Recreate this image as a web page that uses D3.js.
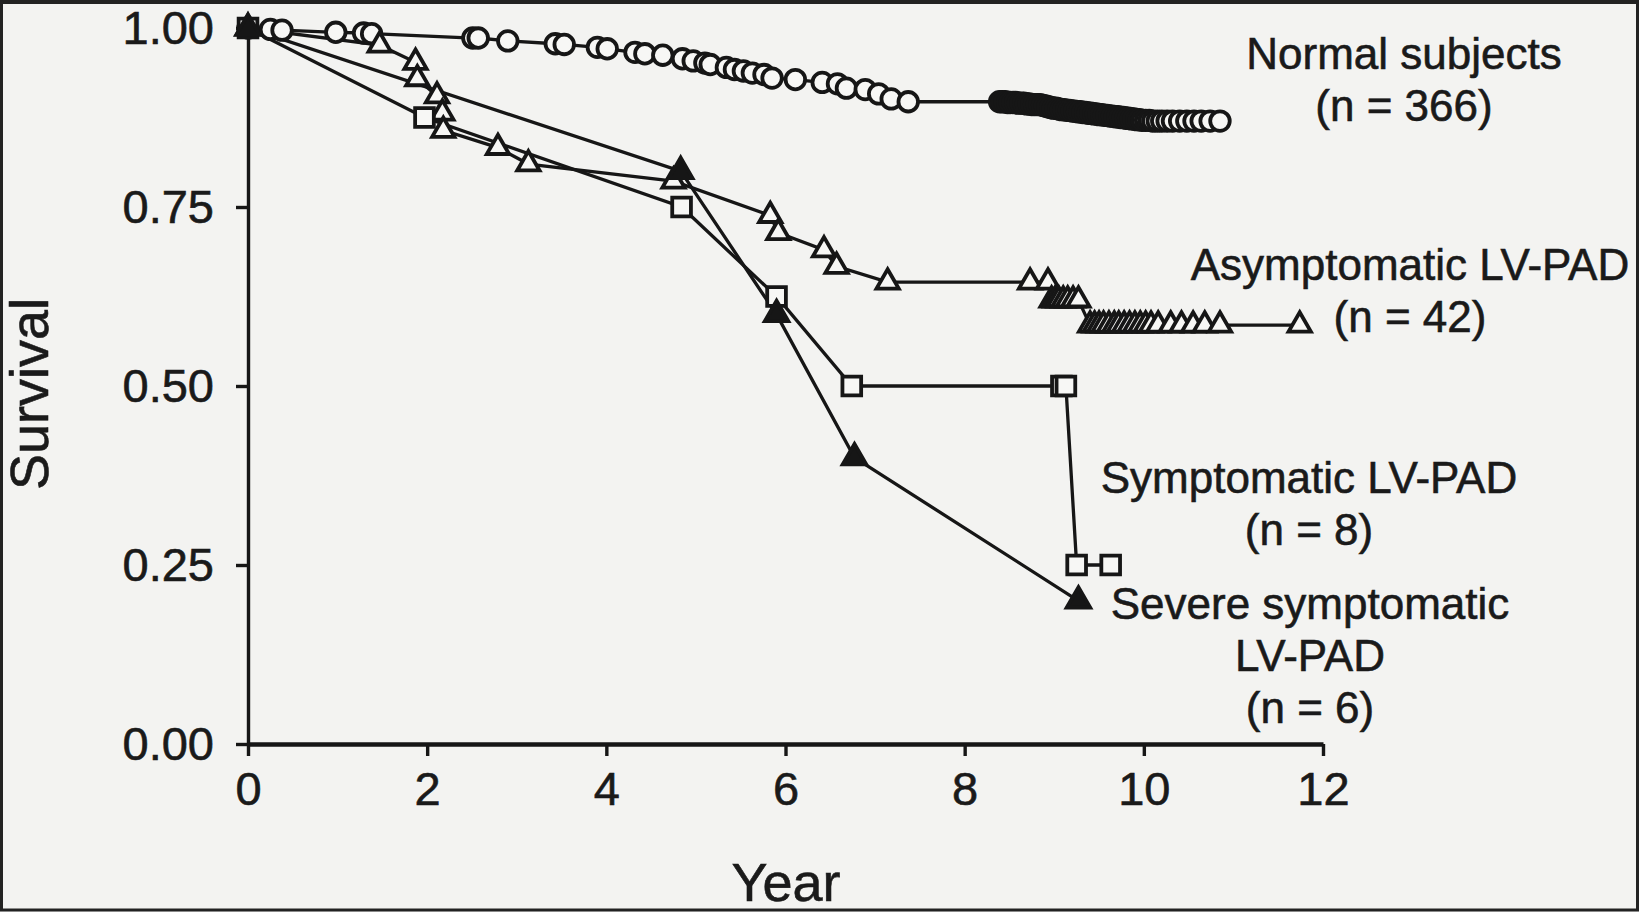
<!DOCTYPE html>
<html>
<head>
<meta charset="utf-8">
<script src="https://cdn.jsdelivr.net/npm/d3@7"></script>
<style>
body { margin: 0; background: #f3f3f1; }
svg { display: block; }
text { font-family: "Liberation Sans", Arial, Helvetica, sans-serif; fill: #1a1a1a; stroke: #1a1a1a; stroke-width: 0.6px; }
</style>
</head>
<body>
<svg width="1639" height="912"></svg>
<script>
// survival curves, [year, survival]
var normalPts = [[0, 1], [0.25, 0.998], [0.38, 0.997], [0.98, 0.994], [1.29, 0.993], [1.38, 0.992],
    [2.51, 0.986], [2.57, 0.986], [2.90, 0.982], [3.43, 0.978], [3.53, 0.977], [3.90, 0.973], [4.01, 0.971],
    [4.32, 0.966], [4.43, 0.964], [4.63, 0.962], [4.85, 0.957], [4.97, 0.954], [5.10, 0.951], [5.16, 0.949],
    [5.34, 0.945], [5.43, 0.942], [5.53, 0.940], [5.63, 0.937], [5.76, 0.935], [5.85, 0.930], [6.11, 0.928],
    [6.41, 0.924], [6.58, 0.922], [6.68, 0.916], [6.89, 0.914], [7.04, 0.908], [7.18, 0.901], [7.37, 0.897],
    [8.39, 0.897], [8.42, 0.897], [8.45, 0.897], [8.48, 0.896], [8.51, 0.896], [8.54, 0.896], [8.57, 0.896],
    [8.60, 0.895], [8.63, 0.895], [8.66, 0.895], [8.69, 0.894], [8.72, 0.894], [8.75, 0.893], [8.78, 0.893],
    [8.81, 0.893], [8.84, 0.893], [8.87, 0.892], [8.90, 0.891], [8.93, 0.890], [8.96, 0.889], [8.99, 0.888],
    [9.02, 0.888], [9.05, 0.887], [9.08, 0.886], [9.11, 0.886], [9.14, 0.885], [9.17, 0.885], [9.20, 0.884],
    [9.23, 0.884], [9.26, 0.883], [9.29, 0.883], [9.32, 0.882], [9.35, 0.882], [9.38, 0.881], [9.41, 0.881],
    [9.44, 0.880], [9.47, 0.880], [9.50, 0.879], [9.53, 0.879], [9.56, 0.878], [9.59, 0.878], [9.62, 0.877],
    [9.65, 0.877], [9.68, 0.876], [9.71, 0.876], [9.74, 0.875], [9.77, 0.875], [9.80, 0.874], [9.83, 0.874],
    [9.86, 0.873], [9.89, 0.873], [9.92, 0.872], [9.95, 0.872], [9.98, 0.871], [10.02, 0.871], [10.06, 0.871],
    [10.10, 0.870], [10.15, 0.870], [10.20, 0.870], [10.26, 0.870], [10.32, 0.870], [10.40, 0.870],
    [10.48, 0.870], [10.56, 0.870], [10.64, 0.870], [10.74, 0.870], [10.85, 0.870]];

var asymPts = [[0, 1], [1.47, 0.976], [1.87, 0.952], [1.89, 0.929], [2.11, 0.905], [2.17, 0.881], [2.18, 0.857],
    [2.79, 0.833], [3.13, 0.810], [4.75, 0.786], [5.83, 0.738], [5.92, 0.714], [6.43, 0.690], [6.57, 0.667],
    [7.14, 0.645], [8.73, 0.645], [8.93, 0.645], [8.97, 0.620], [9.01, 0.620], [9.05, 0.620], [9.10, 0.620],
    [9.15, 0.620], [9.21, 0.620], [9.27, 0.620], [9.40, 0.585], [9.45, 0.585], [9.50, 0.585], [9.55, 0.585],
    [9.61, 0.585], [9.67, 0.585], [9.72, 0.585], [9.78, 0.585], [9.84, 0.585], [9.90, 0.585], [9.96, 0.585],
    [10.02, 0.585], [10.08, 0.585], [10.16, 0.585], [10.30, 0.585], [10.42, 0.585], [10.55, 0.585],
    [10.68, 0.585], [10.85, 0.585], [11.74, 0.585]];

var symPts = [[0, 1], [1.97, 0.875], [4.84, 0.750], [5.90, 0.625], [6.74, 0.500], [9.08, 0.500],
    [9.13, 0.500], [9.25, 0.250], [9.63, 0.250]];

var severePts = [[0, 1], [4.83, 0.800], [5.90, 0.600], [6.77, 0.400], [9.27, 0.200]];

var xTicks = [0, 2, 4, 6, 8, 10, 12];
var yTicks = [0, 0.25, 0.5, 0.75, 1];

var normalLabel = ["Normal subjects", "(n = 366)"];
var asymLabel = ["Asymptomatic LV-PAD", "(n = 42)"];
var symLabel = ["Symptomatic LV-PAD", "(n = 8)"];
var severeLabel = ["Severe symptomatic", "LV-PAD", "(n = 6)"];

var svg = d3.select("svg");
var width = 1639, height = 912;
var ink = "#161616";
var paper = "#f7f7f5";

var x = d3.scaleLinear().domain([0, 12]).range([248, 1323]);
var y = d3.scaleLinear().domain([0, 1]).range([744, 28]);

// axes
var xAxis = svg.append("g")
    .attr("transform", "translate(0," + y(0) + ")")
    .call(d3.axisBottom(x).tickValues(xTicks).tickSize(12).tickSizeOuter(0).tickPadding(16));
var yAxis = svg.append("g")
    .attr("transform", "translate(" + x(0) + ",0)")
    .call(d3.axisLeft(y).tickValues(yTicks).tickFormat(d3.format(".2f")).tickSize(12).tickSizeOuter(0).tickPadding(22));

xAxis.select(".domain").attr("stroke", ink).attr("stroke-width", 4.5);
yAxis.select(".domain").attr("stroke", ink).attr("stroke-width", 3.4);
svg.selectAll(".tick line").attr("stroke", ink).attr("stroke-width", 3.4);
svg.selectAll(".tick text").style("font-size", "47px").attr("fill", ink);

// axis titles
svg.append("text")
    .attr("x", 786).attr("y", 901)
    .attr("text-anchor", "middle")
    .style("font-size", "54px")
    .text("Year");
svg.append("text")
    .attr("transform", "translate(48,394) rotate(-90)")
    .attr("text-anchor", "middle")
    .style("font-size", "54px")
    .text("Survival");

// curves
var series = [
    { pts: normalPts, shape: d3.symbolCircle, size: 300, fill: paper },
    { pts: asymPts, shape: d3.symbolTriangle, size: 215, fill: paper },
    { pts: symPts, shape: d3.symbolSquare, size: 350, fill: paper },
    { pts: severePts, shape: d3.symbolTriangle, size: 240, fill: ink }
];

var line = d3.line()
    .x(function(d) { return x(d[0]); })
    .y(function(d) { return y(d[1]); });

var lines = svg.append("g");
series.forEach(function(s) {
    lines.append("path")
        .datum(s.pts)
        .attr("d", line)
        .attr("fill", "none")
        .attr("stroke", ink)
        .attr("stroke-width", 3.3);
});

var marks = svg.append("g");
series.forEach(function(s) {
    marks.selectAll(null)
        .data(s.pts)
        .enter().append("path")
        .attr("transform", function(d) { return "translate(" + x(d[0]) + "," + y(d[1]) + ")"; })
        .attr("d", d3.symbol().type(s.shape).size(s.size))
        .attr("fill", s.fill)
        .attr("stroke", ink)
        .attr("stroke-width", 3.8);
});

// curve labels
function label(lines, cx, y0) {
    var t = svg.append("text")
        .attr("text-anchor", "middle")
        .style("font-size", "44px");
    lines.forEach(function(l, i) {
        t.append("tspan").attr("x", cx).attr("y", y0 + i * 52).text(l);
    });
}
label(normalLabel, 1404, 69);
label(asymLabel, 1410, 280);
label(symLabel, 1309, 493);
label(severeLabel, 1310, 619);

// frame
svg.append("rect")
    .attr("x", 1.5).attr("y", 2).attr("width", width - 3).attr("height", height - 4)
    .attr("fill", "none").attr("stroke", "#222").attr("stroke-width", 3);
svg.append("line")
    .attr("x1", 0).attr("x2", width).attr("y1", 2).attr("y2", 2)
    .attr("stroke", "#222").attr("stroke-width", 4);
</script>
</body>
</html>
